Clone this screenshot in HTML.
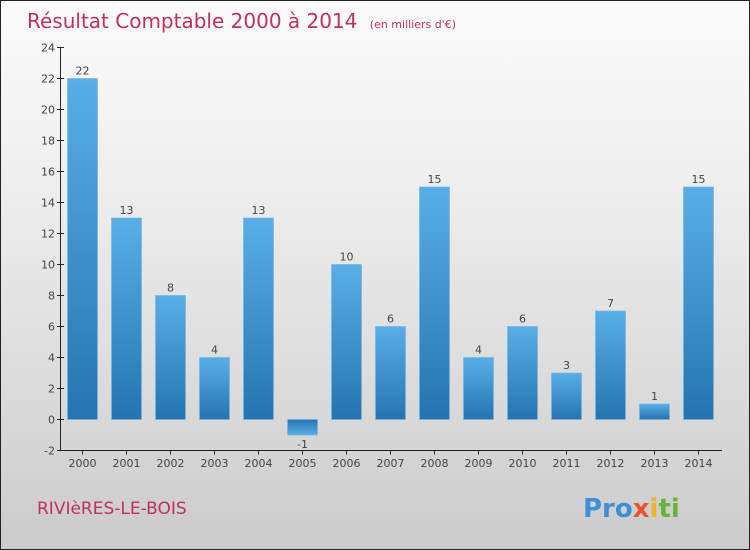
<!DOCTYPE html>
<html><head><meta charset="utf-8"><style>
body{margin:0}
#c{width:748px;height:548px;border:1px solid #222;background:linear-gradient(#fbfbfb,#f0f0f0 30%,#d9d9d9 75%,#cbcbcb);position:relative;font-family:"DejaVu Sans","Liberation Sans",sans-serif;overflow:hidden}
</style></head><body>
<div id="c">
<svg width="748" height="548" id="svg">
<defs>
<linearGradient id="gp" x1="0" y1="0" x2="0" y2="1"><stop offset="0" stop-color="#5aaee6"/><stop offset="1" stop-color="#2574b1"/></linearGradient>
<linearGradient id="gn" x1="0" y1="0" x2="0" y2="1"><stop offset="0" stop-color="#2574b1"/><stop offset="1" stop-color="#5aaee6"/></linearGradient>
</defs>
<text x="26" y="27" font-size="20" fill="#c0305f">Résultat Comptable 2000 à 2014 <tspan font-size="11" dx="6">(en milliers d'€)</tspan></text>
<text x="36" y="513" font-size="17" fill="#c0305f">RIVIèRES-LE-BOIS</text>
<text x="582" y="516" font-size="26" font-weight="bold" fill="#3d8fd6">Pro<tspan fill="#e4572e">x</tspan><tspan fill="#f0b323">i</tspan><tspan fill="#69b33a">ti</tspan></text>
<g id="g"></g>
</svg>
</div>
<script>
const years=["2000","2001","2002","2003","2004","2005","2006","2007","2008","2009","2010","2011","2012","2013","2014"];
const values=[22,13,8,4,13,-1,10,6,15,4,6,3,7,1,15];
const yTicks=[-2,0,2,4,6,8,10,12,14,16,18,20,22,24];
const ns="http://www.w3.org/2000/svg";
const g=document.getElementById('g');
function y(v){return 418.5-v*15.5;}
function x(i){return 81.5+i*44;}
function mk(t,a,txt){const e=document.createElementNS(ns,t);for(const k in a)e.setAttribute(k,a[k]);if(txt!==undefined)e.textContent=txt;g.appendChild(e);return e;}
let ax=mk('line',{x1:59.5,y1:y(24),x2:59.5,y2:y(-2),stroke:'#222'});


let xx=mk('line',{x1:59.5,y1:y(-2),x2:721,y2:y(-2),stroke:'#222'});


yTicks.forEach(t=>{
 mk('line',{x1:56,x2:63,y1:y(t),y2:y(t),stroke:'#222'});
 const l=mk('text',{x:54,y:y(t)+4,'font-size':11,fill:'#444','text-anchor':'end'},t);
 
 
});
years.forEach((yr,i)=>{
 const v=values[i],cx=x(i);
 mk('line',{x1:cx,x2:cx,y1:y(-2),y2:y(-2)+4,stroke:'#222'});
 const l=mk('text',{x:cx,y:466,'font-size':11,fill:'#444','text-anchor':'middle'},yr);
 
 
 const top=Math.min(y(v),y(0)),h=Math.abs(y(v)-y(0));
 const b=mk('rect',{x:cx-15,y:top,width:30,height:h,fill:v>=0?'url(#gp)':'url(#gn)',stroke:'#6ab6ea','stroke-width':0.6});
 
 
 const vl=mk('text',{x:cx,y:v>=0?y(v)-4:y(v)+13,'font-size':11,fill:'#444','text-anchor':'middle'},v);
 
 
});
</script>
</body></html>
